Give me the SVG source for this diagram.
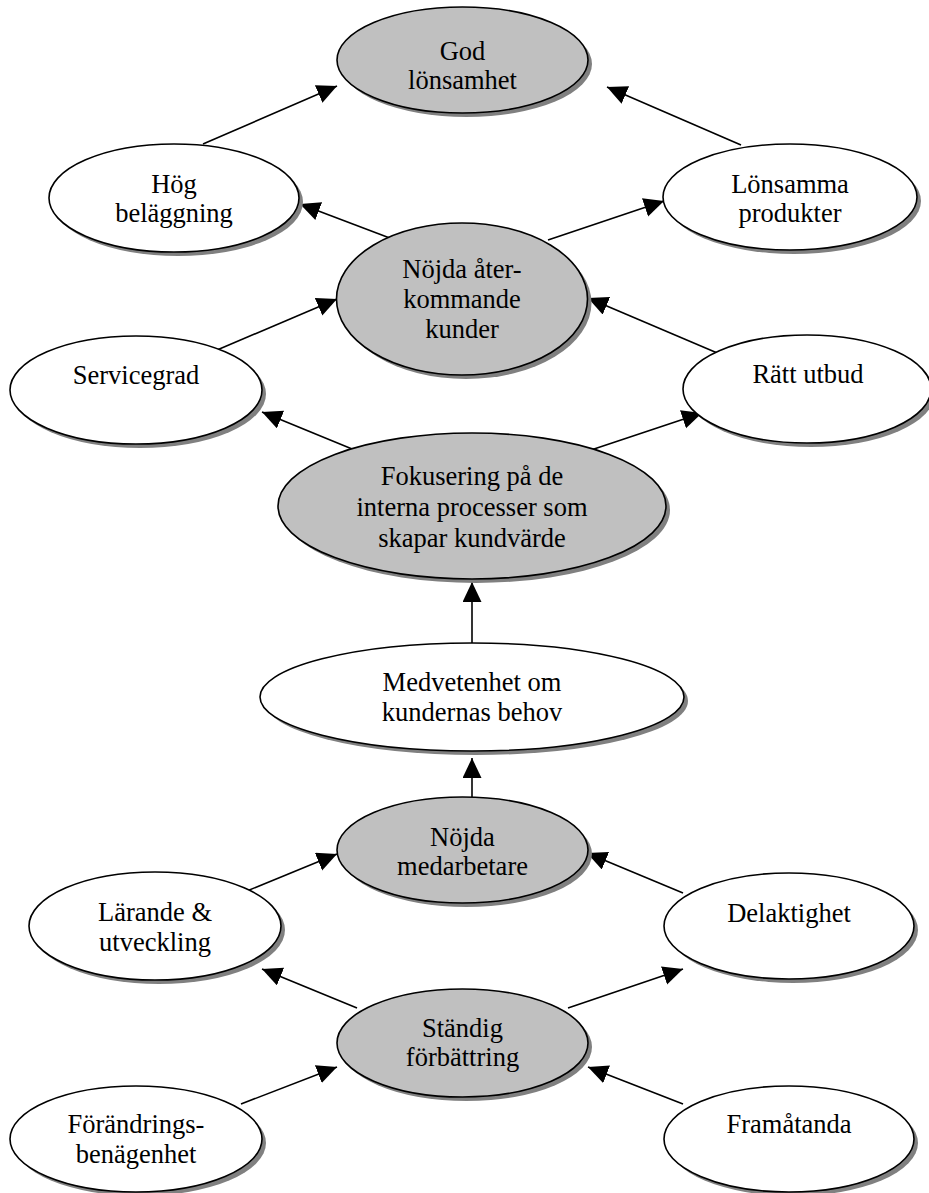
<svg xmlns="http://www.w3.org/2000/svg" width="929" height="1193" viewBox="0 0 929 1193">
  <style>
    .shadow { fill: #808080; stroke: none; }
    .key { fill: #c0c0c0; stroke: #000; stroke-width: 1.6; }
    .plain { fill: #fff; stroke: #000; stroke-width: 1.6; }
    .lbl { font-family: "Liberation Serif", "Times New Roman", serif; font-size: 26.5px; fill: #000; text-anchor: middle; }
    .edge { stroke: #000; stroke-width: 1.6; fill: none; marker-end: url(#head); }
  </style>
  <defs>
    <marker id="head" markerUnits="userSpaceOnUse" markerWidth="21" markerHeight="20" refX="20" refY="9.5" orient="auto">
      <path d="M0,0 L20,9.5 L0,19 z" fill="#000"/>
    </marker>
  </defs>
  <rect width="929" height="1193" fill="#fff"/>

  <!-- connectors -->
  <g id="connectors">
    <line class="edge" x1="203" y1="144" x2="337" y2="86"/>
    <line class="edge" x1="741" y1="145" x2="607" y2="87"/>
    <line class="edge" x1="395" y1="240" x2="300" y2="204"/>
    <line class="edge" x1="548" y1="240" x2="664" y2="201"/>
    <line class="edge" x1="203" y1="356" x2="337" y2="299"/>
    <line class="edge" x1="722" y1="355" x2="588" y2="298"/>
    <line class="edge" x1="357" y1="451" x2="262" y2="412"/>
    <line class="edge" x1="588" y1="451" x2="702" y2="413"/>
    <line class="edge" x1="472" y1="643" x2="472" y2="582"/>
    <line class="edge" x1="472" y1="797" x2="472" y2="758"/>
    <line class="edge" x1="242" y1="893" x2="337" y2="854"/>
    <line class="edge" x1="683" y1="893" x2="587" y2="853"/>
    <line class="edge" x1="357" y1="1008" x2="262" y2="969"/>
    <line class="edge" x1="568" y1="1008" x2="683" y2="969"/>
    <line class="edge" x1="241" y1="1104" x2="337" y2="1067"/>
    <line class="edge" x1="683" y1="1104" x2="588" y2="1067"/>
  </g>

  <g id="god-lonsamhet">
    <ellipse class="shadow" cx="466.5" cy="64" rx="125.5" ry="53"/>
    <ellipse class="key" cx="462.5" cy="60" rx="125.5" ry="53"/>
    <text class="lbl" x="462.5" y="60">God</text>
    <text class="lbl" x="462.5" y="89">lönsamhet</text>
  </g>

  <g id="hog-belaggning">
    <ellipse class="shadow" cx="178" cy="202" rx="125" ry="54"/>
    <ellipse class="plain" cx="174" cy="198" rx="125" ry="54"/>
    <text class="lbl" x="174" y="193">Hög</text>
    <text class="lbl" x="174" y="222">beläggning</text>
  </g>

  <g id="lonsamma-produkter">
    <ellipse class="shadow" cx="794" cy="201" rx="127" ry="53"/>
    <ellipse class="plain" cx="790" cy="197" rx="127" ry="53"/>
    <text class="lbl" x="790" y="193">Lönsamma</text>
    <text class="lbl" x="790" y="222">produkter</text>
  </g>

  <g id="nojda-aterkommande-kunder">
    <ellipse class="shadow" cx="466" cy="303" rx="125.5" ry="76"/>
    <ellipse class="key" cx="462" cy="299" rx="125.5" ry="76"/>
    <text class="lbl" x="462" y="278">Nöjda åter-</text>
    <text class="lbl" x="462" y="308">kommande</text>
    <text class="lbl" x="462" y="338">kunder</text>
  </g>

  <g id="servicegrad">
    <ellipse class="shadow" cx="140" cy="394" rx="126" ry="54"/>
    <ellipse class="plain" cx="136" cy="390" rx="126" ry="54"/>
    <text class="lbl" x="136" y="384">Servicegrad</text>
  </g>

  <g id="ratt-utbud">
    <ellipse class="shadow" cx="811" cy="393" rx="124" ry="54"/>
    <ellipse class="plain" cx="807" cy="389" rx="124" ry="54"/>
    <text class="lbl" x="808" y="383">Rätt utbud</text>
  </g>

  <g id="fokusering">
    <ellipse class="shadow" cx="476" cy="510" rx="194" ry="73"/>
    <ellipse class="key" cx="472" cy="506" rx="194" ry="73"/>
    <text class="lbl" x="472" y="485">Fokusering på de</text>
    <text class="lbl" x="472" y="516">interna processer som</text>
    <text class="lbl" x="472" y="547">skapar kundvärde</text>
  </g>

  <g id="medvetenhet">
    <ellipse class="shadow" cx="476" cy="701" rx="212" ry="54"/>
    <ellipse class="plain" cx="472" cy="697" rx="212" ry="54"/>
    <text class="lbl" x="472" y="691">Medvetenhet om</text>
    <text class="lbl" x="472" y="721">kundernas behov</text>
  </g>

  <g id="nojda-medarbetare">
    <ellipse class="shadow" cx="466.5" cy="854" rx="125.5" ry="53"/>
    <ellipse class="key" cx="462.5" cy="850" rx="125.5" ry="53"/>
    <text class="lbl" x="462.5" y="846">Nöjda</text>
    <text class="lbl" x="462.5" y="875">medarbetare</text>
  </g>

  <g id="larande-utveckling">
    <ellipse class="shadow" cx="159" cy="930" rx="126" ry="54"/>
    <ellipse class="plain" cx="155" cy="926" rx="126" ry="54"/>
    <text class="lbl" x="155" y="921">Lärande &amp;</text>
    <text class="lbl" x="155" y="951">utveckling</text>
  </g>

  <g id="delaktighet">
    <ellipse class="shadow" cx="793" cy="930" rx="125" ry="53"/>
    <ellipse class="plain" cx="789" cy="926" rx="125" ry="53"/>
    <text class="lbl" x="789" y="922">Delaktighet</text>
  </g>

  <g id="standig-forbattring">
    <ellipse class="shadow" cx="466.5" cy="1047" rx="125.5" ry="54"/>
    <ellipse class="key" cx="462.5" cy="1043" rx="125.5" ry="54"/>
    <text class="lbl" x="462.5" y="1037">Ständig</text>
    <text class="lbl" x="462.5" y="1066">förbättring</text>
  </g>

  <g id="forandringsbenagenhet">
    <ellipse class="shadow" cx="140" cy="1143" rx="126" ry="53"/>
    <ellipse class="plain" cx="136" cy="1139" rx="126" ry="53"/>
    <text class="lbl" x="136" y="1133">Förändrings-</text>
    <text class="lbl" x="136" y="1163">benägenhet</text>
  </g>

  <g id="framatanda">
    <ellipse class="shadow" cx="793" cy="1143" rx="125" ry="53"/>
    <ellipse class="plain" cx="789" cy="1139" rx="125" ry="53"/>
    <text class="lbl" x="789" y="1133">Framåtanda</text>
  </g>
</svg>
